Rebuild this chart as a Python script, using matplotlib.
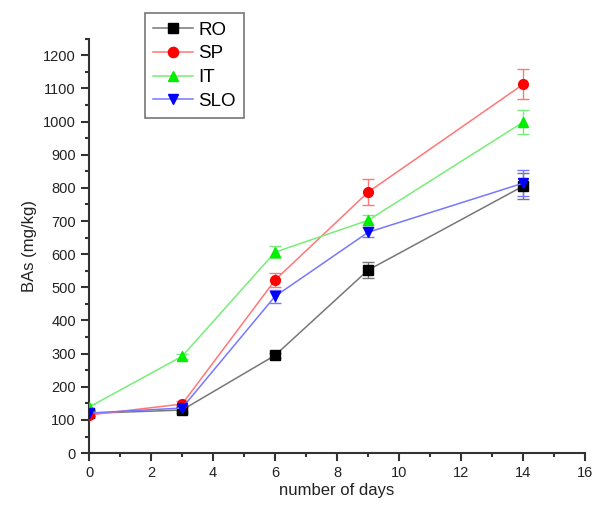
import matplotlib
matplotlib.use("Agg")
import matplotlib.pyplot as plt
from matplotlib.ticker import MultipleLocator

plt.rcParams["font.family"] = ["Liberation Sans", "DejaVu Sans"]

days = [0, 3, 6, 9, 14]

ro = [120, 130, 295, 552, 805]
ro_err = [8, 8, 8, 25, 40]
sp = [115, 148, 522, 787, 1112]
sp_err = [8, 10, 20, 40, 45]
it = [139, 292, 606, 702, 998]
it_err = [8, 8, 18, 15, 36]
slo = [121, 136, 473, 666, 814]
slo_err = [8, 8, 20, 15, 40]

series = [
    ("RO", ro, ro_err, "black", "#777777", "s"),
    ("SP", sp, sp_err, "red", "#ff7777", "o"),
    ("IT", it, it_err, "#00ee00", "#77ee77", "^"),
    ("SLO", slo, slo_err, "blue", "#7777ff", "v"),
]

fig = plt.figure(figsize=(5.94, 5.08), dpi=100)
ax = fig.add_axes([0.150, 0.108, 0.835, 0.816])

handles = []
for name, vals, err, mcol, lcol, mk in series:
    ax.errorbar(days, vals, yerr=err, fmt="none", ecolor=lcol, elinewidth=1,
                capsize=4, capthick=1, zorder=2)
    h, = ax.plot(days, vals, color=lcol, lw=1.1, marker=mk, markersize=7,
                 markerfacecolor=mcol, markeredgecolor=mcol, label=name, zorder=3)
    handles.append(h)

ax.set_xlim(0, 16)
ax.xaxis.set_major_locator(MultipleLocator(2))
ax.xaxis.set_minor_locator(MultipleLocator(1))
ax.yaxis.set_minor_locator(MultipleLocator(50))
ax.set_yticks(range(0, 1300, 100))
ax.set_ylim(0, 1250)

for side in ("top", "right"):
    ax.spines[side].set_visible(False)
for side in ("left", "bottom"):
    ax.spines[side].set_linewidth(1.5)
    ax.spines[side].set_color("#333333")

ax.tick_params(which="major", direction="out", length=6, width=1.5,
               color="#333333", labelsize=10.5, labelcolor="#222222")
ax.tick_params(which="minor", direction="out", length=3, width=1.5, color="#333333")

ax.set_xlabel("number of days", fontsize=12, color="#222222", labelpad=2)
ax.set_ylabel("BAs (mg/kg)", fontsize=12, color="#222222", labelpad=4)

leg = fig.legend(handles=handles, loc="upper left", bbox_to_anchor=(0.244, 0.974),
                 borderaxespad=0, fontsize=13.5, frameon=True, fancybox=False,
                 edgecolor="#555555", handlelength=2.1, handletextpad=0.3,
                 labelspacing=0.35, borderpad=0.45, markerscale=1.05)
leg.get_frame().set_linewidth(1.2)

fig.savefig("out.png", dpi=100)
